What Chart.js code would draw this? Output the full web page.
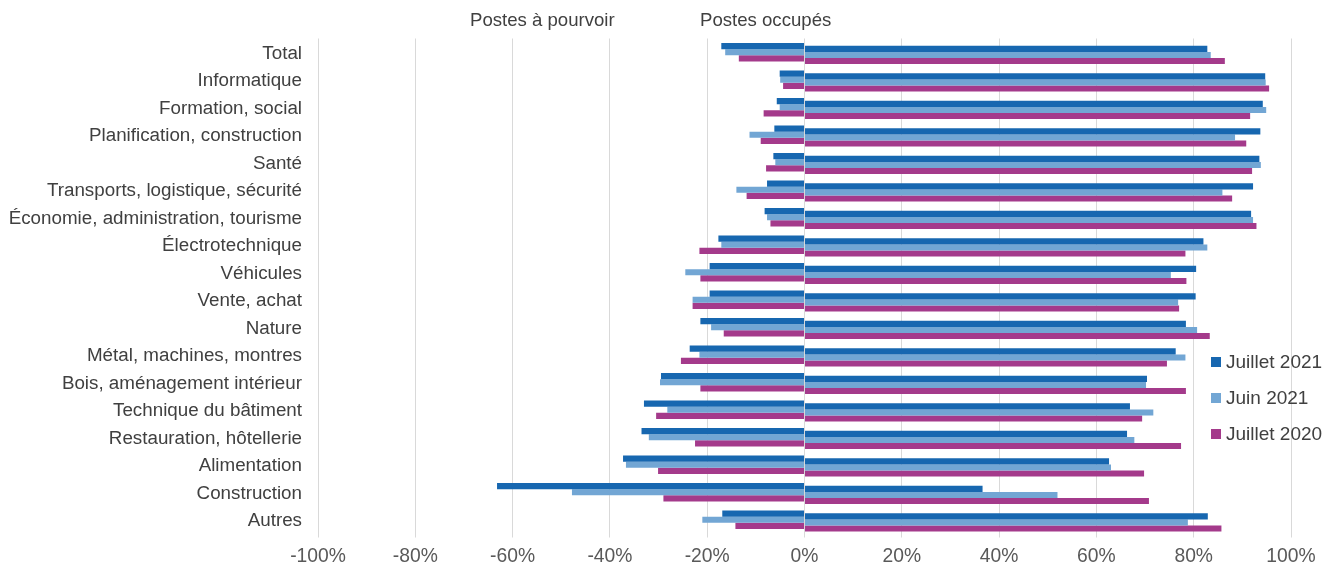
<!DOCTYPE html>
<html>
<head>
<meta charset="utf-8">
<script src="https://cdn.jsdelivr.net/npm/chart.js@4.4.0/dist/chart.umd.min.js"></script>
<style>
  html, body { margin: 0; padding: 0; background: #fff; }
  #wrap { position: relative; width: 1327px; height: 567px; font-family: "Liberation Sans", Arial, sans-serif; color: #404040; }
  #c { position: absolute; left: 0; top: 0; }
  .title { position: absolute; top: 10px; font-size: 18.6px; line-height: 20px; white-space: nowrap; }
  .leg { position: absolute; left: 1211px; font-size: 19px; line-height: 20px; white-space: nowrap; color: #404040; }
  .leg span.box { position: absolute; left: 0; top: 5px; width: 10px; height: 10px; }
  .leg span.txt { position: absolute; left: 15px; top: 0; }
</style>
</head>
<body>
<div id="wrap">
  <canvas id="c" width="1327" height="567"></canvas>
  <div class="title" style="left:470px;">Postes à pourvoir</div>
  <div class="title" style="left:700px;">Postes occupés</div>
  <div id="legend"></div>
</div>
<script>
const categories = ["Total", "Informatique", "Formation, social", "Planification, construction", "Santé",
  "Transports, logistique, sécurité", "Économie, administration, tourisme", "Électrotechnique", "Véhicules",
  "Vente, achat", "Nature", "Métal, machines, montres", "Bois, aménagement intérieur", "Technique du bâtiment",
  "Restauration, hôtellerie", "Alimentation", "Construction", "Autres"];

const seriesNames = ["Juillet 2021", "Juin 2021", "Juillet 2020"];

// Postes à pourvoir (negative side), %
const vacantJul21 = [-17.1, -5.1, -5.7, -6.2, -6.4, -7.7, -8.2, -17.7, -19.5, -19.5, -21.4, -23.6, -29.5, -33.0, -33.5, -37.3, -63.2, -16.9];
const vacantJun21 = [-16.3, -5.0, -5.1, -11.3, -6.0, -14.0, -7.7, -17.1, -24.5, -23.0, -19.2, -21.6, -29.7, -28.2, -32.0, -36.7, -47.8, -21.0];
const vacantJul20 = [-13.5, -4.4, -8.4, -9.0, -7.9, -11.9, -7.0, -21.6, -21.4, -23.0, -16.6, -25.4, -21.4, -30.5, -22.5, -30.1, -29.0, -14.2];

// Postes occupés (positive side), %
const occJul21 = [82.8, 94.7, 94.2, 93.7, 93.5, 92.2, 91.8, 82.0, 80.5, 80.4, 78.4, 76.3, 70.4, 66.9, 66.3, 62.6, 36.6, 82.9];
const occJun21 = [83.5, 94.8, 94.9, 88.5, 93.8, 85.9, 92.2, 82.8, 75.3, 76.8, 80.7, 78.3, 70.2, 71.7, 67.8, 63.0, 52.0, 78.8];
const occJul20 = [86.4, 95.5, 91.6, 90.8, 92.0, 87.9, 92.9, 78.3, 78.5, 77.0, 83.3, 74.5, 78.4, 69.4, 77.4, 69.8, 70.8, 85.7];

const xTicks = [-100, -80, -60, -40, -20, 0, 20, 40, 60, 80, 100];

const colors = ["#1767b0", "#72a6d4", "#a43a8b"];

const FONT = '"Liberation Sans", Arial, sans-serif';

const negSets = [vacantJul21, vacantJun21, vacantJul20];
const posSets = [occJul21, occJun21, occJul20];
const stacks = ["a", "b", "c"];

const datasets = [];
negSets.forEach((d, i) => datasets.push({ label: seriesNames[i], data: d, backgroundColor: colors[i], stack: stacks[i], side: "neg" }));
posSets.forEach((d, i) => datasets.push({ label: seriesNames[i], data: d, backgroundColor: colors[i], stack: stacks[i], side: "pos" }));

// Legend (HTML)
const legendEl = document.getElementById("legend");
const legTops = [352, 388, 424];
seriesNames.forEach((n, i) => {
  const div = document.createElement("div");
  div.className = "leg";
  div.style.top = legTops[i] + "px";
  div.innerHTML = '<span class="box" style="background:' + colors[i] + '"></span><span class="txt">' + n + '</span>';
  legendEl.appendChild(div);
});

const shiftPlugin = {
  id: "shiftPos",
  beforeDatasetDraw(chart, args) {
    chart.ctx.save();
    if (chart.data.datasets[args.index].side === "pos") chart.ctx.translate(0, 2.7);
  },
  afterDatasetDraw(chart) {
    chart.ctx.restore();
  }
};

new Chart(document.getElementById("c"), {
  type: "bar",
  data: { labels: categories, datasets },
  options: {
    indexAxis: "y",
    responsive: false,
    animation: false,
    devicePixelRatio: 1,
    layout: { padding: { top: 38.5, right: 36, left: 0, bottom: 0 } },
    datasets: { bar: { categoryPercentage: 0.665, barPercentage: 1.0 } },
    plugins: { legend: { display: false }, tooltip: { enabled: false } },
    scales: {
      x: {
        stacked: true,
        min: -100, max: 100,
        z: 1,
        afterBuildTicks(scale) { scale.ticks = xTicks.map(v => ({ value: v })); },
        afterFit(scale) { scale.height = 33.5; },
        ticks: {
          callback: v => v + "%",
          color: "#595959",
          font: { family: FONT, size: 19.3 },
          padding: 7.5,
          maxRotation: 0
        },
        grid: { color: "rgba(0,0,0,0.15)", lineWidth: 1, tickLength: 4 },
        border: { display: false }
      },
      y: {
        stacked: true,
        afterFit(scale) { scale.width = 318; },
        ticks: {
          color: "#404040",
          font: { family: FONT, size: 18.8 },
          padding: 8,
          labelOffset: 1.5,
          autoSkip: false
        },
        grid: { display: false },
        border: { display: false }
      }
    }
  },
  plugins: [shiftPlugin]
});
</script>
</body>
</html>
